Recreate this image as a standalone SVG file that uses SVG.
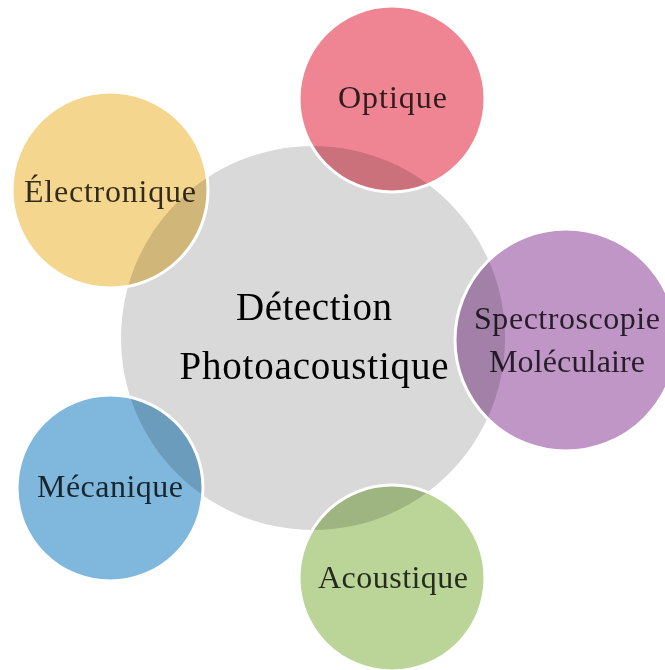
<svg xmlns="http://www.w3.org/2000/svg" width="665" height="670" viewBox="0 0 665 670">
<style>
.fill{mix-blend-mode:multiply;stroke:none}
.ring{fill:none;stroke:#ffffff;stroke-width:3}
.lbl{font-family:"Liberation Serif","DejaVu Serif",serif;font-size:32px;fill:#000;fill-opacity:0.8;text-anchor:middle}
.main{font-family:"Liberation Serif","DejaVu Serif",serif;font-size:39px;fill:#000;text-anchor:middle}
</style>
<rect width="665" height="670" fill="#ffffff"/>
<g id="center">
<circle cx="313" cy="338" r="192" fill="#d9d9d9"/>
</g>
<g id="optique">
<circle class="fill" cx="392" cy="99" r="93" fill="#ef8592"/>
<circle class="ring" cx="392" cy="99" r="93"/>
</g>
<g id="spectroscopie">
<circle class="fill" cx="566" cy="340" r="111" fill="#bf96c6"/>
<circle class="ring" cx="566" cy="340" r="111"/>
</g>
<g id="electronique">
<circle class="fill" cx="110" cy="190" r="98" fill="#f5d68e"/>
<circle class="ring" cx="110" cy="190" r="98"/>
</g>
<g id="mecanique">
<circle class="fill" cx="110" cy="488" r="93" fill="#7fb7dd"/>
<circle class="ring" cx="110" cy="488" r="93"/>
</g>
<g id="acoustique">
<circle class="fill" cx="392" cy="578" r="93" fill="#bbd598"/>
<circle class="ring" cx="392" cy="578" r="93"/>
</g>
<g id="labels">
<text class="main" x="314" y="320" textLength="156">Détection</text>
<text class="main" x="314" y="379" textLength="269">Photoacoustique</text>
<text class="lbl" x="392.5" y="108" textLength="109">Optique</text>
<text class="lbl" x="110" y="202" textLength="172">Électronique</text>
<text class="lbl" x="567" y="329" textLength="186">Spectroscopie</text>
<text class="lbl" x="567" y="372" textLength="156">Moléculaire</text>
<text class="lbl" x="110" y="497" textLength="146">Mécanique</text>
<text class="lbl" x="393" y="588" textLength="150">Acoustique</text>
</g>
</svg>
